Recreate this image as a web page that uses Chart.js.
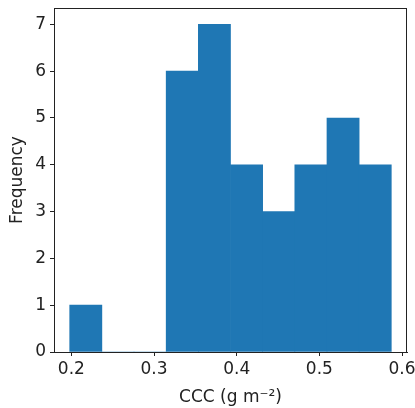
<!DOCTYPE html>
<html>
<head>
<meta charset="utf-8">
<script src="https://cdn.jsdelivr.net/npm/chart.js@4"></script>
<style>
  html, body { margin: 0; padding: 0; background: #fff; }
  #wrap { width: 415px; height: 408px; }
</style>
</head>
<body>
<div id="wrap"><canvas id="hist" width="415" height="408"></canvas></div>
<script>
// histogram bins (CCC, g m^-2)
const binStart = 0.198;
const binWidth = 0.0389;
const counts = [1, 0, 0, 6, 7, 4, 3, 4, 5, 4];
const xTicks = [0.2, 0.3, 0.4, 0.5, 0.6];
const yTicks = [0, 1, 2, 3, 4, 5, 6, 7];

const points = counts.map((c, i) => ({ x: binStart + binWidth * (i + 0.5), y: c }));

// matplotlib style full frame
const framePlugin = {
  id: 'frame',
  afterDraw(chart) {
    const { ctx, chartArea: a } = chart;
    ctx.save();
    ctx.strokeStyle = '#222';
    ctx.lineWidth = 1;
    ctx.strokeRect(a.left + 0.5, a.top + 0.5, a.right - a.left - 1, a.bottom - a.top);
    ctx.restore();
  },
};

const font = { family: 'DejaVu Sans', size: 17 };

new Chart(document.getElementById('hist'), {
  type: 'bar',
  data: {
    datasets: [{
      data: points,
      backgroundColor: '#1f77b4',
      borderWidth: 0,
      barPercentage: 1,
      categoryPercentage: 1,
    }],
  },
  options: {
    animation: false,
    responsive: false,
    devicePixelRatio: 1,
    layout: { padding: { top: 8, right: 8, left: 0, bottom: 0 } },
    plugins: { legend: { display: false }, tooltip: { enabled: false } },
    scales: {
      x: {
        type: 'linear',
        offset: false,
        min: 0.179,
        max: 0.606,
        afterBuildTicks: s => { s.ticks = xTicks.map(v => ({ value: v })); },
        ticks: { color: '#222', font, padding: 3, maxRotation: 0, callback: v => v.toFixed(1) },
        grid: { display: true, offset: false, drawOnChartArea: false, drawTicks: true, tickLength: 4, color: '#222' },
        border: { display: true, color: '#222' },
        title: { display: true, text: 'CCC (g m\u207B\u00B2)', color: '#222', font, padding: { top: 4, bottom: 0 } },
        afterFit: s => { s.height = 56; s.paddingLeft = 0; s.paddingRight = 0; },
      },
      y: {
        min: 0,
        max: 7.35,
        afterBuildTicks: s => { s.ticks = yTicks.map(v => ({ value: v })); },
        ticks: { color: '#222', font, padding: 4 },
        grid: { display: true, drawOnChartArea: false, drawTicks: true, tickLength: 4, color: '#222' },
        border: { display: true, color: '#222' },
        title: { display: true, text: 'Frequency', color: '#222', font, padding: { top: 7, bottom: 0 } },
        afterFit: s => { s.width = 54; s.paddingTop = 0; s.paddingBottom = 0; },
      },
    },
  },
  plugins: [framePlugin],
});
</script>
</body>
</html>
